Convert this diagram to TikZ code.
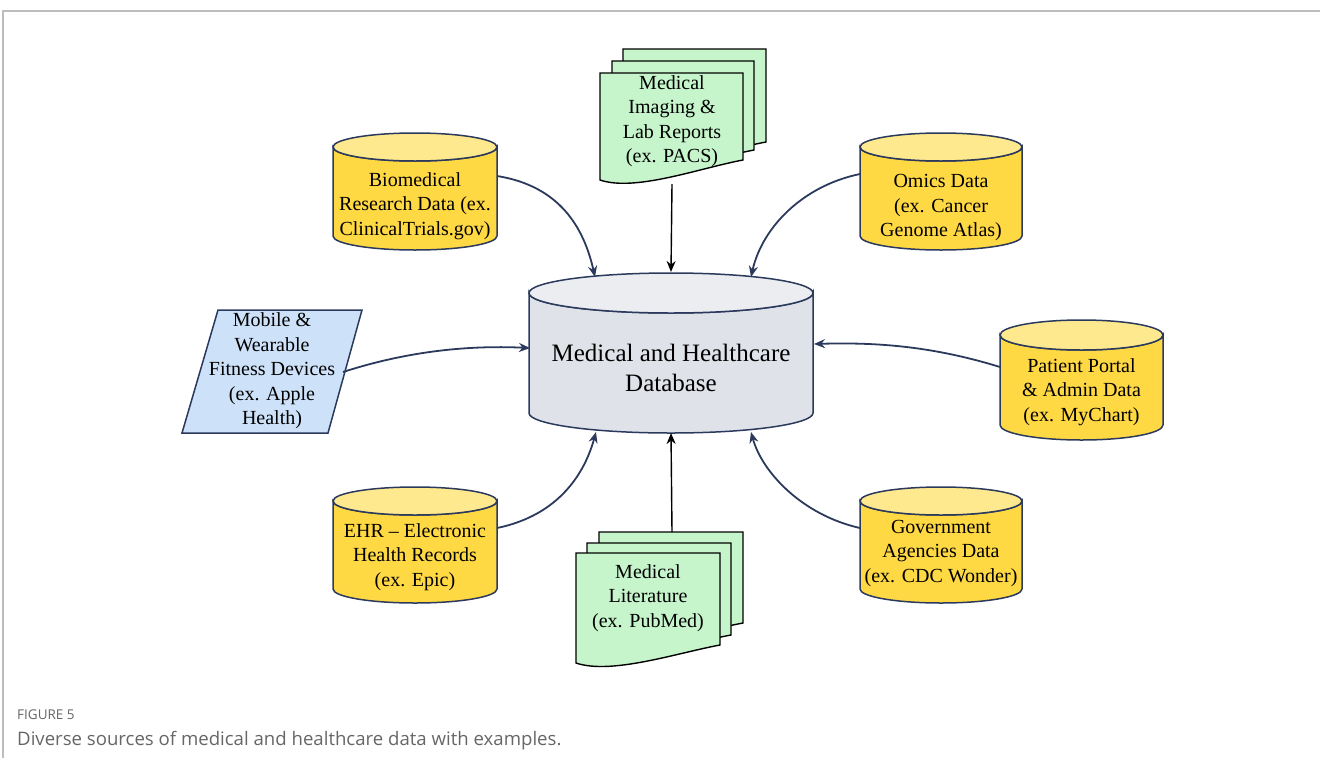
\documentclass[tikz,border=0pt]{standalone}
\usepackage{fontspec}
\setmainfont{Liberation Serif}
\newfontfamily\capfont{Open Sans}
\usetikzlibrary{arrows.meta}

\definecolor{navy}{HTML}{2B3A5C}
\definecolor{cylbody}{HTML}{FFD944}
\definecolor{cyltop}{HTML}{FFE98E}
\definecolor{dbbody}{HTML}{DFE2E8}
\definecolor{dbtop}{HTML}{ECEDF1}
\definecolor{docgreen}{HTML}{C6F4CB}
\definecolor{mobblue}{HTML}{CDE1F8}
\definecolor{framegray}{HTML}{BDBDBD}
\definecolor{capgray}{HTML}{666666}

\tikzset{
  shapeline/.style={draw=navy, line width=1.5pt},
  docline/.style={draw=black, line width=1.4pt, fill=docgreen},
  label/.style={align=center, font=\fontsize{20}{24.5}\selectfont, inner sep=0pt},
  feed/.style={draw=navy, line width=1.8pt, -{Stealth[length=11pt,width=9pt]}},
  feedblack/.style={draw=black, line width=1.4pt, -{Stealth[length=11pt,width=9pt]}},
}

% cylinder: #1 cx, #2 top-ellipse y, #3 bottom-ellipse y, #4 half width, #5 y radius, #6 body fill, #7 top fill
\newcommand{\cylshape}[7]{%
  \path[shapeline, fill=#6] (#1-#4,#2) -- (#1-#4,#3)
    arc[start angle=180, end angle=0, x radius=#4, y radius=#5]
    -- (#1+#4,#2) arc[start angle=0, end angle=180, x radius=#4, y radius=#5] -- cycle;
  \path[shapeline, fill=#7] (#1,#2) ellipse[x radius=#4, y radius=#5];
}

% document with wavy bottom: #1 left x, #2 right x, #3 top y, #4 bottom-left y, #5 bottom-right y
\newcommand{\docshape}[5]{%
  \path[docline] (#1,#3) -- (#2,#3) -- (#2,#5)
    .. controls (#1+0.7*#2-0.7*#1,#5+8) and (#1+0.245*#2-0.245*#1,#4+12) .. (#1,#4) -- cycle;
}

\begin{document}
\begin{tikzpicture}[x=1pt, y=-1pt]
\useasboundingbox (0,0) rectangle (1320,758);

% page frame
\draw[framegray, line width=1.5pt] (3,758) -- (3,11) -- (1320,11);

% central database
\cylshape{671}{293}{413}{142}{20}{dbbody}{dbtop}
\node[align=center, font=\fontsize{25}{30}\selectfont, inner sep=0pt] (db) at (671,368)
  {Medical and Healthcare\\Database};
\coordinate (db-nw) at (595,277);
\coordinate (db-n)  at (671,272);
\coordinate (db-ne) at (751,277);
\coordinate (db-w)  at (530,348);
\coordinate (db-e)  at (814,344);
\coordinate (db-sw) at (596,432);
\coordinate (db-s)  at (671,433);
\coordinate (db-se) at (751,432);

% yellow source cylinders
\cylshape{415}{147}{236}{82}{14}{cylbody}{cyltop}
\node[label] (bio) at (415,206) {Biomedical\\Research Data (ex.\\ClinicalTrials.gov)};
\coordinate (bio-e) at (497,176);

\cylshape{941}{147}{236}{81}{14}{cylbody}{cyltop}
\node[label] (omics) at (941,208) {Omics Data\\(ex. Cancer\\Genome Atlas)};
\coordinate (omics-w) at (860,174);

\cylshape{1081.5}{335}{425}{81.5}{15}{cylbody}{cyltop}
\node[label] (portal) at (1081.5,392) {Patient Portal\\\& Admin Data\\(ex. MyChart)};
\coordinate (portal-w) at (1000,367);

\cylshape{415}{501}{589}{82}{14}{cylbody}{cyltop}
\node[label] (ehr) at (415,557) {EHR -- Electronic\\Health Records\\(ex. Epic)};
\coordinate (ehr-e) at (497,528);

\cylshape{941}{501}{589}{81}{14}{cylbody}{cyltop}
\node[label] (gov) at (941,553) {Government\\Agencies Data\\(ex. CDC Wonder)};
\coordinate (gov-w) at (860,528);

% mobile devices (parallelogram)
\path[shapeline, fill=mobblue] (218,310) -- (362,310) -- (328,433) -- (182,433) -- cycle;
\node[label] (mobile) at (272,371) {Mobile \&\\Wearable\\Fitness Devices\\(ex. Apple\\Health)};
\coordinate (mobile-e) at (343,372);

% imaging documents stack
\docshape{623}{766}{49}{160}{142}
\docshape{612}{754}{61}{170}{150}
\docshape{600}{743}{73}{180}{160}
\node[label] (imaging) at (672,121) {Medical\\Imaging \&\\Lab Reports\\(ex. PACS)};
\coordinate (imaging-s) at (672,184);

% literature documents stack
\docshape{599}{743}{532}{641}{623}
\docshape{587}{731}{543}{652}{635}
\docshape{576}{720}{553}{663}{645}
\node[label] (lit) at (648,598) {Medical\\Literature\\(ex. PubMed)};
\coordinate (lit-n) at (672,532);

% connectors into the database
\draw[feedblack] (imaging-s) -- (db-n);
\draw[feedblack] (lit-n) -- (db-s);
\draw[feed] (bio-e) .. controls (560,186) and (584,228) .. (db-nw);
\draw[feed] (omics-w) .. controls (802,186) and (762,228) .. (db-ne);
\draw[feed] (mobile-e) .. controls (405,352) and (465,345) .. (db-w);
\draw[feed] (portal-w) .. controls (935,347) and (880,342) .. (db-e);
\draw[feed] (ehr-e) .. controls (560,515) and (585,472) .. (db-sw);
\draw[feed] (gov-w) .. controls (802,515) and (762,472) .. (db-se);

% caption
\node[anchor=west, inner sep=0pt, text=capgray, font=\capfont\fontsize{13.5}{15}\selectfont] (figno) at (17,715) {FIGURE 5};
\node[anchor=west, inner sep=0pt, text=capgray, font=\capfont\fontsize{18.6}{21}\selectfont] (caption) at (17,741)
  {Diverse sources of medical and healthcare data with examples.};
\end{tikzpicture}
\end{document}
